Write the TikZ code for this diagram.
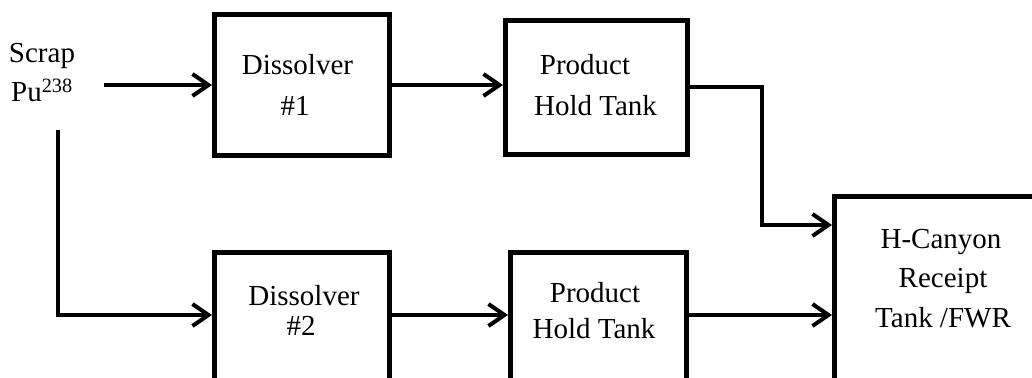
\documentclass[tikz,border=0pt]{standalone}
\usepackage{fontspec}
\setmainfont{Liberation Serif}
\usetikzlibrary{arrows.meta}
\tikzset{
  box/.style={draw, rectangle, line width=5pt, inner sep=0pt},
  lbl/.style={anchor=base, inner sep=0pt, font=\fontsize{29}{35}\selectfont},
  flow/.style={line width=4pt, -{Straight Barb[length=16pt,width=22pt]}},
}
\begin{document}
\begin{tikzpicture}[x=1pt,y=-1pt]
\useasboundingbox (0,0) rectangle (1032,377);
\clip (0,0) rectangle (1032,377);

% process vessels
\node[box, minimum width=175pt, minimum height=141pt] (d1) at (302,85) {};
\node[box, minimum width=182pt, minimum height=134pt] (p1) at (596.5,87.5) {};
\node[box, minimum width=175pt, minimum height=141pt] (d2) at (302,323) {};
\node[box, minimum width=176pt, minimum height=141pt] (p2) at (598.5,323) {};
\node[box, minimum width=215pt, minimum height=210pt] (hc) at (942,301.5) {};

% labels
\node[lbl] (scrap) at (42,63) {Scrap};
\node[lbl] (pu) at (42,102) {Pu\textsuperscript{238}};
\node[lbl] (d1a) at (297.5,75) {Dissolver};
\node[lbl] (d1b) at (295,115) {\#1};
\node[lbl] (d2a) at (304,305) {Dissolver};
\node[lbl] (d2b) at (301,335) {\#2};
\node[lbl] (p1a) at (585,75) {Product};
\node[lbl] (p1b) at (595.5,115) {Hold Tank};
\node[lbl] (p2a) at (595,302) {Product};
\node[lbl] (p2b) at (594,338) {Hold Tank};
\node[lbl] (hca) at (941,248) {H-Canyon};
\node[lbl] (hcb) at (943,287) {Receipt};
\node[lbl] (hcc) at (943,327) {Tank /FWR};

% flow lines
\coordinate (in1) at (104,85);
\coordinate (in2) at (58,130);
\coordinate (row2) at (0,315);
\coordinate (bend) at (762,225);

\draw[flow] (in1) -- (d1.west);
\draw[flow] (in2) |- (row2 -| d2.west);
\draw[flow] (d1.east) -- (d1.east -| p1.west);
\draw[flow] (row2 -| d2.east) -- (row2 -| p2.west);
\draw[flow] (p1.east) -| (bend) -- (bend -| hc.west);
\draw[flow] (row2 -| p2.east) -- (row2 -| hc.west);
\end{tikzpicture}
\end{document}
